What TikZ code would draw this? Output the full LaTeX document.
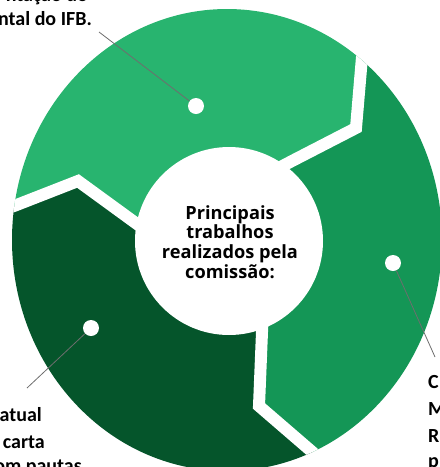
\documentclass[tikz,border=0pt]{standalone}
\usepackage{fontspec}
\setmainfont{Carlito}
\newfontfamily\titlefont{Open Sans}
\definecolor{lightg}{HTML}{28B46F}
\definecolor{midg}{HTML}{149656}
\definecolor{darkg}{HTML}{05552B}
\definecolor{leadergray}{HTML}{6E6E6E}
\tikzset{
  lbl/.style={font=\bfseries\fontsize{20}{26}\selectfont, inner sep=0pt, text=black},
  gapline/.style={draw=white, line width=12pt, line join=miter, line cap=butt},
  dotnode/.style={circle, fill=white, minimum size=16pt, inner sep=0pt},
  leaderline/.style={draw=leadergray, line width=0.8pt}
}
\begin{document}
\begin{tikzpicture}[x=1pt,y=-1pt]
\useasboundingbox (0,0) rectangle (440,467);
\clip (0,0) rectangle (440,467);
\coordinate (c) at (229,241);
% gap polylines
\coordinate (g1a) at (273,171); \coordinate (g1b) at (292,161); \coordinate (g1c) at (356,128); \coordinate (g1d) at (362,57); \coordinate (g1e) at (367,-30);
\coordinate (g2a) at (155,237); \coordinate (g2b) at (137,224); \coordinate (g2c) at (78,181); \coordinate (g2d) at (14,206); \coordinate (g2e) at (-30,219);
\coordinate (g3a) at (263,310); \coordinate (g3b) at (262,332); \coordinate (g3c) at (259,406); \coordinate (g3d) at (310,450); \coordinate (g3e) at (368,500);
\begin{scope}
  \clip (227,240) ellipse [x radius=215, y radius=231];
  \fill[lightg] (c) -- (g2a) -- (g2b) -- (g2c) -- (g2d) -- (g2e) -- (-30,-30) -- (g1e) -- (g1d) -- (g1c) -- (g1b) -- (g1a) -- cycle;
  \fill[midg] (c) -- (g1a) -- (g1b) -- (g1c) -- (g1d) -- (g1e) -- (500,-30) -- (500,500) -- (g3e) -- (g3d) -- (g3c) -- (g3b) -- (g3a) -- cycle;
  \fill[darkg] (c) -- (g3a) -- (g3b) -- (g3c) -- (g3d) -- (g3e) -- (-30,500) -- (g2e) -- (g2d) -- (g2c) -- (g2b) -- (g2a) -- cycle;
  \path[gapline] (g1a) -- (g1b) -- (g1c) -- (g1d) -- (g1e);
  \path[gapline] (g2a) -- (g2b) -- (g2c) -- (g2d) -- (g2e);
  \path[gapline] (g3a) -- (g3b) -- (g3c) -- (g3d) -- (g3e);
\end{scope}
\fill[white] (c) circle [radius=94];
\node[font=\titlefont\bfseries\fontsize{18.2}{19.6}\selectfont, align=center, inner sep=0pt] (title) at (230,242) {Principais\\trabalhos\\realizados pela\\comissão:};
% dots and leaders
\node[dotnode] (d1) at (196,106) {};
\node[dotnode] (d2) at (393,263) {};
\node[dotnode] (d3) at (91,328) {};
\coordinate (e1) at (99,32);
\coordinate (e2) at (435,357);
\coordinate (e3) at (27,388);
\draw[leaderline] (d1) -- (e1);
\draw[leaderline] (d2) -- (e2);
\draw[leaderline] (d3) -- (e3);
% labels
\node[lbl, anchor=base east] (t1) at (88,1.5) {ntação do};
\node[lbl, anchor=base east] (t2) at (92,25) {ntal do IFB.};
\node[lbl, anchor=base east] (b1) at (42,421.5) {atual};
\node[lbl, anchor=base east] (b2) at (45,448) {carta};
\node[lbl, anchor=base east] (b3) at (82,472) {om pautas};
\node[lbl, anchor=base west] (r1) at (428,388) {C};
\node[lbl, anchor=base west] (r2) at (428,415) {M};
\node[lbl, anchor=base west] (r3) at (428,442) {R};
\node[lbl, anchor=base west] (r4) at (428,467) {p};
\end{tikzpicture}
\end{document}
